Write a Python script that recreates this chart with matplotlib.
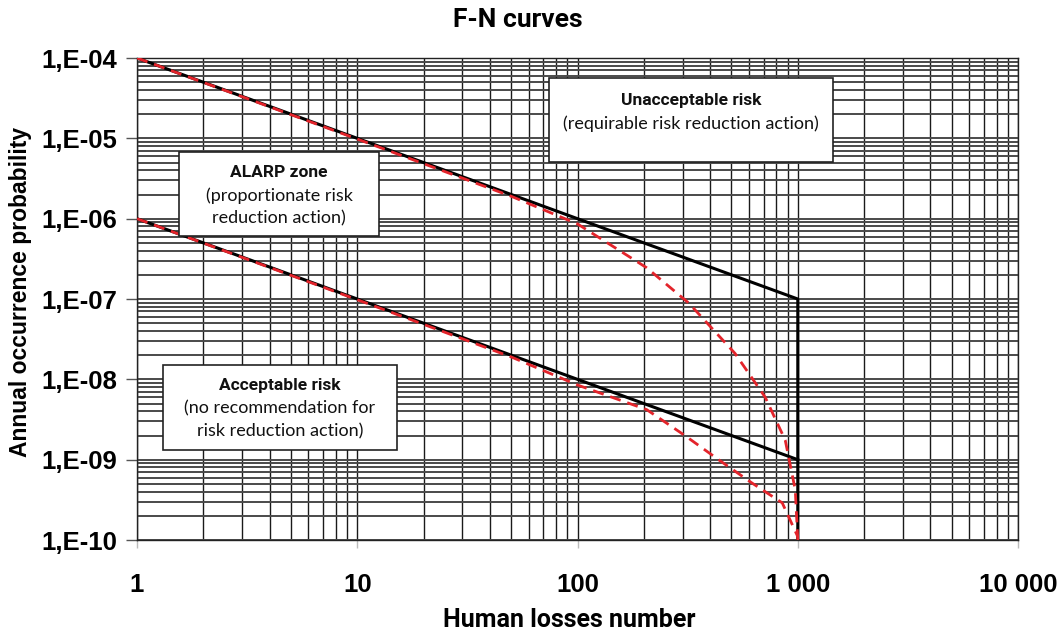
import matplotlib
matplotlib.use("Agg")
import matplotlib.pyplot as plt
from matplotlib.patches import Rectangle
from matplotlib.ticker import LogLocator, NullFormatter

# ---- data ----
upper_limit_x = [1, 1000, 1000]
upper_limit_y = [1e-4, 1e-7, 1e-10]
lower_limit_x = [1, 1000]
lower_limit_y = [1e-6, 1e-9]

upper_curve_x = [1, 3, 10, 30, 50, 100, 206, 320, 519, 711, 877, 974, 1000]
upper_curve_y = [1e-4, 3.3e-5, 9.8e-6, 3.2e-6, 1.9e-6, 8.6e-7, 2.45e-7, 8.9e-8, 2.1e-8, 6.0e-9, 1.75e-9, 4.2e-10, 1e-10]

lower_curve_x = [1, 3, 10, 30, 50, 100, 206, 307, 439, 621, 850, 1000]
lower_curve_y = [1e-6, 3.3e-7, 9.8e-8, 3.2e-8, 1.9e-8, 8.5e-9, 4.2e-9, 2.0e-9, 9.9e-10, 5.1e-10, 2.9e-10, 1.1e-10]

x_ticks = [1, 10, 100, 1000, 10000]
x_tick_labels = ["1", "10", "100", "1 000", "10 000"]
y_ticks = [1e-10, 1e-9, 1e-8, 1e-7, 1e-6, 1e-5, 1e-4]
y_tick_labels = ["1,E-10", "1,E-09", "1,E-08", "1,E-07", "1,E-06", "1,E-05", "1,E-04"]

title = "F-N curves"
xlabel = "Human losses number"
ylabel = "Annual occurrence probability"

box_heads = ["Unacceptable risk", "ALARP zone", "Acceptable risk"]
box_lines = [["(requirable risk reduction action)"],
             ["(proportionate risk", "reduction action)"],
             ["(no recommendation for", "risk reduction action)"]]

# layout of the boxes (axes fraction): x0, y0, w, h, y of first text line
box_layout = [(0.4677, 0.784, 0.3223, 0.1745, 0.911),
              (0.0477, 0.6307, 0.2270, 0.1743, 0.763),
              (0.0295, 0.1867, 0.2656, 0.1763, 0.3216)]

# ---- figure ----
fig = plt.figure(figsize=(10.64, 6.39), dpi=100)
ax = fig.add_axes([0.1288, 0.1549, 0.8280, 0.7543])
ax.set_xscale("log")
ax.set_yscale("log")
ax.set_xlim(1, 10000)
ax.set_ylim(1e-10, 1e-4)

ax.xaxis.set_minor_locator(LogLocator(base=10, subs=range(2, 10)))
ax.yaxis.set_minor_locator(LogLocator(base=10, subs=range(2, 10)))
ax.xaxis.set_minor_formatter(NullFormatter())
ax.yaxis.set_minor_formatter(NullFormatter())

ax.grid(True, which="both", axis="x", color="#1a1a1a", lw=1.0)
ax.grid(True, which="both", axis="y", color="#4a4a4a", lw=1.4)
ax.set_axisbelow(True)

ax.set_xticks(x_ticks)
ax.set_xticklabels(x_tick_labels)
ax.set_yticks(y_ticks)
ax.set_yticklabels(y_tick_labels)
for lab in ax.get_xticklabels() + ax.get_yticklabels():
    lab.set_family("Liberation Sans")
    lab.set_fontweight("bold")
    lab.set_fontsize(18.5)
ax.tick_params(axis="y", which="major", length=8, width=1, pad=6, color="#555")
ax.tick_params(axis="x", which="major", length=6, width=1, pad=18, color="#bbb")
ax.tick_params(which="minor", length=0)
for s in ax.spines.values():
    s.set_color("#222")
    s.set_linewidth(1.0)

ax.plot(upper_limit_x, upper_limit_y, color="black", lw=2.2, zorder=3)
ax.plot(lower_limit_x, lower_limit_y, color="black", lw=2.2, zorder=3)
ax.plot(upper_curve_x, upper_curve_y, color="#e3242b", lw=2.0, ls=(0, (4, 2.5)), zorder=4)
ax.plot(lower_curve_x, lower_curve_y, color="#e3242b", lw=2.0, ls=(0, (4, 2.5)), zorder=4)

dy = 0.0477
for head, rest, (x0, y0, w, h, ytxt) in zip(box_heads, box_lines, box_layout):
    ax.add_patch(Rectangle((x0, y0), w, h, transform=ax.transAxes,
                           facecolor="white", edgecolor="#222", lw=1.2, zorder=5))
    cx = x0 + w / 2
    ax.text(cx, ytxt, head, transform=ax.transAxes, ha="center", va="center",
            fontsize=12.5, fontweight="bold", family="Roboto", zorder=6, color="#111")
    for i, line in enumerate(rest):
        ax.text(cx, ytxt - dy * (i + 1), line, transform=ax.transAxes, ha="center", va="center",
                fontsize=13, family="Lato", zorder=6, color="#111")

fig.text(0.487, 0.968, title, ha="center", va="center", fontsize=19, fontweight="bold", family="Roboto")
fig.text(0.535, 0.029, xlabel, ha="center", va="center", fontsize=18, fontweight="bold", family="Roboto")
fig.text(0.019, 0.543, ylabel, ha="center", va="center", rotation=90, fontsize=16.5,
         fontweight="bold", family="Liberation Sans")

fig.savefig("out.png", dpi=100, facecolor="white")
